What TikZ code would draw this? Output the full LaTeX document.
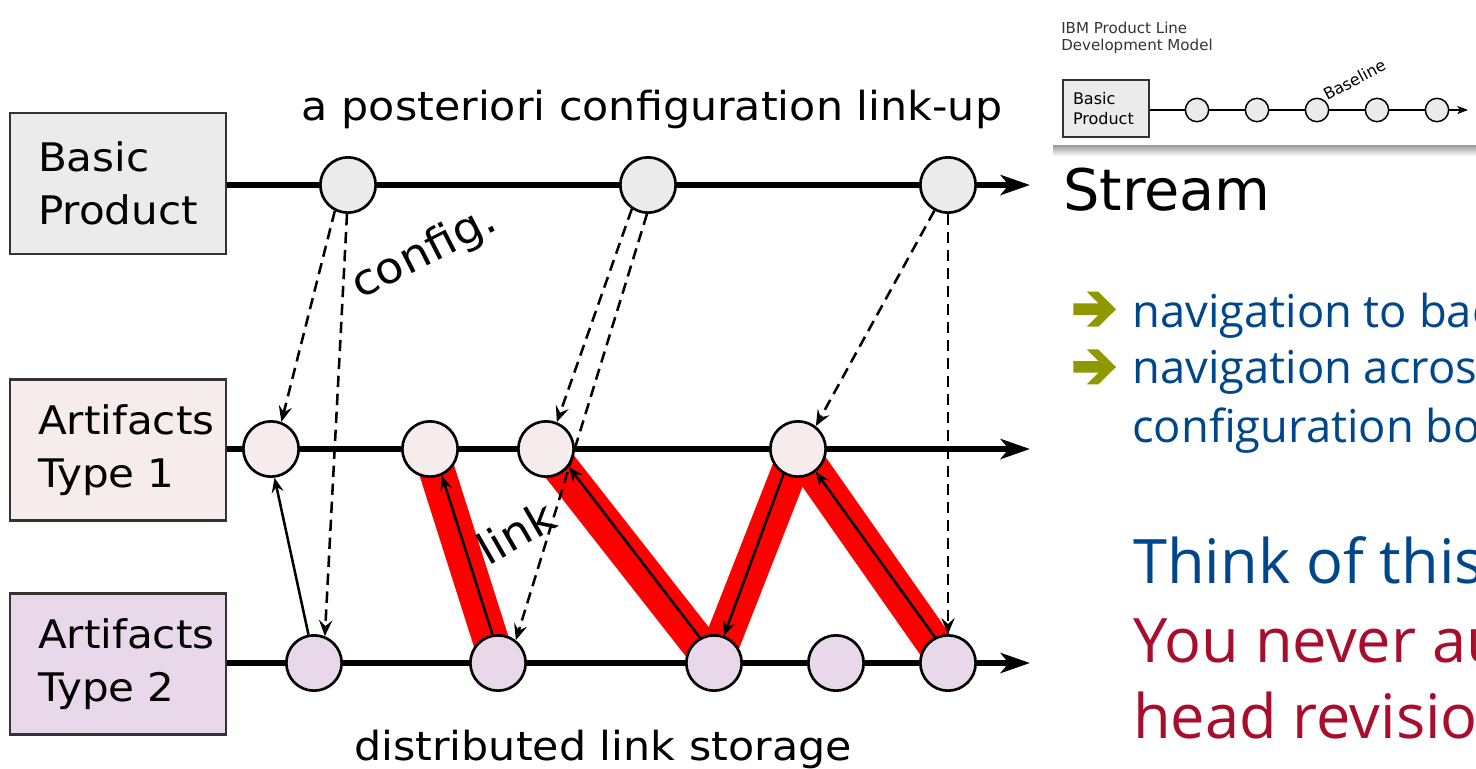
\documentclass[tikz,border=0pt]{standalone}
\usepackage{fontspec}
\setmainfont{DejaVu Sans}[FakeStretch=1.07]
\newfontfamily\plainsans{DejaVu Sans}
\newfontfamily\segoe{Open Sans}
\usetikzlibrary{arrows.meta,shapes.geometric}
\definecolor{bpfill}{HTML}{EBEBEB}
\definecolor{aafill}{HTML}{F5ECEB}
\definecolor{abfill}{HTML}{E9D8EA}
\definecolor{boxline}{HTML}{333333}
\definecolor{olivearrow}{RGB}{143,152,0}
\definecolor{navytext}{RGB}{0,70,140}
\definecolor{crimsontext}{RGB}{168,14,44}
\definecolor{linkred}{HTML}{FF0000}
\pgfdeclarelayer{bg}
\pgfsetlayers{bg,main}
\begin{document}
\begin{tikzpicture}[x=0.75pt,y=-0.75pt,
  box/.style={draw=boxline, line width=2pt, minimum width=162pt, minimum height=105.75pt,
    inner xsep=21pt, text width=120pt, align=left, font=\fontsize{29.5}{40}\selectfont},
  ver/.style={circle, draw=black, line width=2pt, minimum size=41.5pt, inner sep=0pt},
  sver/.style={circle, draw=black, line width=1.1pt, minimum size=17.5pt, inner sep=0pt, fill=bpfill},
  mainline/.style={line width=4.5pt, -{Stealth[length=22pt,width=15pt,inset=6pt]}},
  cfg/.style={dash pattern=on 8.5pt off 5pt, line width=1.9pt, -{Stealth[length=12pt,width=10pt,inset=4.5pt]}},
  lnk/.style={line width=1.9pt, -{Stealth[length=11pt,width=9pt,inset=4pt]}},
  band/.style={line width=27pt, draw=linkred},
  lbl/.style={font=\fontsize{30}{36}\selectfont, inner sep=0pt},
  rlbl/.style={font=\fontsize{32.5}{36}\selectfont, inner sep=0pt},
  rtext/.style={anchor=base west, inner sep=0pt},
]
\useasboundingbox (0,0) rectangle (1476,768);
\clip (0,0) rectangle (1476,768);
\begin{pgfonlayer}{bg}
\fill[white] (0,0) rectangle (1476,768);
\end{pgfonlayer}

% ---- boxes
\node[box, fill=bpfill] (bp) at (118,183.5) {Basic\\Product};
\node[box, fill=aafill] (t1) at (118,450) {Artifacts\\Type 1};
\node[box, fill=abfill] (t2) at (118,664) {Artifacts\\Type 2};

% ---- line ends
\coordinate (e0) at (1030,185);
\coordinate (e1) at (1030,449);
\coordinate (e2) at (1030,663);

% ---- versions
\node[ver, fill=bpfill] (b1) at (348,185) {};
\node[ver, fill=bpfill] (b2) at (648,185) {};
\node[ver, fill=bpfill] (b3) at (948,185) {};
\node[ver, fill=aafill] (u1) at (271,449) {};
\node[ver, fill=aafill] (u2) at (430,449) {};
\node[ver, fill=aafill] (u3) at (546,449) {};
\node[ver, fill=aafill] (u4) at (798,449) {};
\node[ver, fill=abfill] (w1) at (314,663) {};
\node[ver, fill=abfill] (w2) at (498,663) {};
\node[ver, fill=abfill] (w3) at (714,663) {};
\node[ver, fill=abfill] (w4) at (836,663) {};
\node[ver, fill=abfill] (w5) at (948,663) {};

\begin{pgfonlayer}{bg}
% red link bands
\draw[band] (u2.center) -- (w2.center);
\draw[band] (u3.center) -- (w3.center);
\draw[band] (w3.center) -- (u4.center);
\draw[band] (u4.center) -- (w5.center);
% streams
\draw[mainline] (bp.east |- e0) -- (e0);
\draw[mainline] (t1.east |- e1) -- (e1);
\draw[mainline] (t2.east |- e2) -- (e2);
\end{pgfonlayer}

% ---- configuration arrows
\draw[cfg] (b1.243) -- (u1.69);
\draw[cfg] (b1.268) -- (w1.68);
\draw[cfg] (b2.236) -- (u3.68);
\draw[cfg] (b2.268) -- (w2.52);
\draw[cfg] (b3.242) -- (u4.52);
\draw[cfg] (b3.270) -- (w5.90);

% ---- link arrows
\draw[lnk] (w1.101) -- (u1.277);
\draw[lnk] (w2.101) -- (u2.294);
\draw[lnk] (w3.119) -- (u3.322);
\draw[lnk] (u4.240) -- (w3.70);
\draw[lnk] (w5.117) -- (u4.308);

% ---- labels
\node[lbl, anchor=base] (ttop) at (652,120) {a posteriori configuration link-up};
\node[rlbl, anchor=base west, rotate=27] (tcfg) at (360,300) {config.};
\node[rlbl, anchor=base west, rotate=30] (tlink) at (488,567) {link};
\node[lbl, anchor=base] (tbot) at (603,760) {distributed link storage};
\node[rtext, font=\plainsans\fontsize{43}{50}\selectfont] (stream) at (1063,210) {Stream};

% ---- inset
\shade[top color=black!40, bottom color=white] (1053,145) rectangle (1476,156);
\node[rtext, font=\plainsans\fontsize{11.3}{13}\selectfont, text=boxline] (ibma) at (1061,33) {IBM Product Line};
\node[rtext, font=\plainsans\fontsize{11.3}{13}\selectfont, text=boxline] (ibmb) at (1061,50) {Development Model};
\node[draw=boxline, line width=1pt, fill=bpfill, minimum width=64.5pt, minimum height=42.75pt,
  inner xsep=7.5pt, text width=49.5pt, align=left, font=\plainsans\fontsize{12}{15}\selectfont] (sbp) at (1106,108.5) {Basic\\Product};
\coordinate (se) at (1468,110);
\node[sver] (s1) at (1197,110) {};
\node[sver] (s2) at (1257,110) {};
\node[sver] (s3) at (1317,110) {};
\node[sver] (s4) at (1377,110) {};
\node[sver] (s5) at (1437,110) {};
\begin{pgfonlayer}{bg}
\draw[line width=2.2pt, -{Stealth[length=8pt,width=6pt,inset=2pt]}] (sbp.east |- se) -- (se);
\end{pgfonlayer}
\node[rtext, rotate=28, font=\plainsans\fontsize{12}{14}\selectfont] (bl) at (1327,101) {Baseline};

% ---- bullets
\foreach \dy in {0,57.7}{
\fill[olivearrow] (1073.3,303.3+\dy) -- (1098.3,303.3+\dy) -- (1086.7,291.7+\dy) -- (1098.3,291.7+\dy)
  -- (1116,309.3+\dy) -- (1098.3,326.7+\dy) -- (1086.7,326.7+\dy) -- (1098.3,315+\dy) -- (1073.3,315+\dy) -- cycle;
}
\node[rtext, text=navytext, font=\segoe\fontsize{34}{40}\selectfont] (n1) at (1132,327) {navigation to bac};
\node[rtext, text=navytext, font=\segoe\fontsize{34}{40}\selectfont] (n2) at (1132,383) {navigation across};
\node[rtext, text=navytext, font=\segoe\fontsize{34}{40}\selectfont] (n3) at (1132,442) {configuration bo};
\node[rtext, text=navytext, font=\segoe\fontsize{46}{54}\selectfont] (k1) at (1133,583) {Think of this};
\node[rtext, text=crimsontext, font=\segoe\fontsize{46}{54}\selectfont] (k2) at (1133,662) {You never au};
\node[rtext, text=crimsontext, font=\segoe\fontsize{46}{54}\selectfont] (k3) at (1133,738) {head revision};
\end{tikzpicture}
\end{document}
